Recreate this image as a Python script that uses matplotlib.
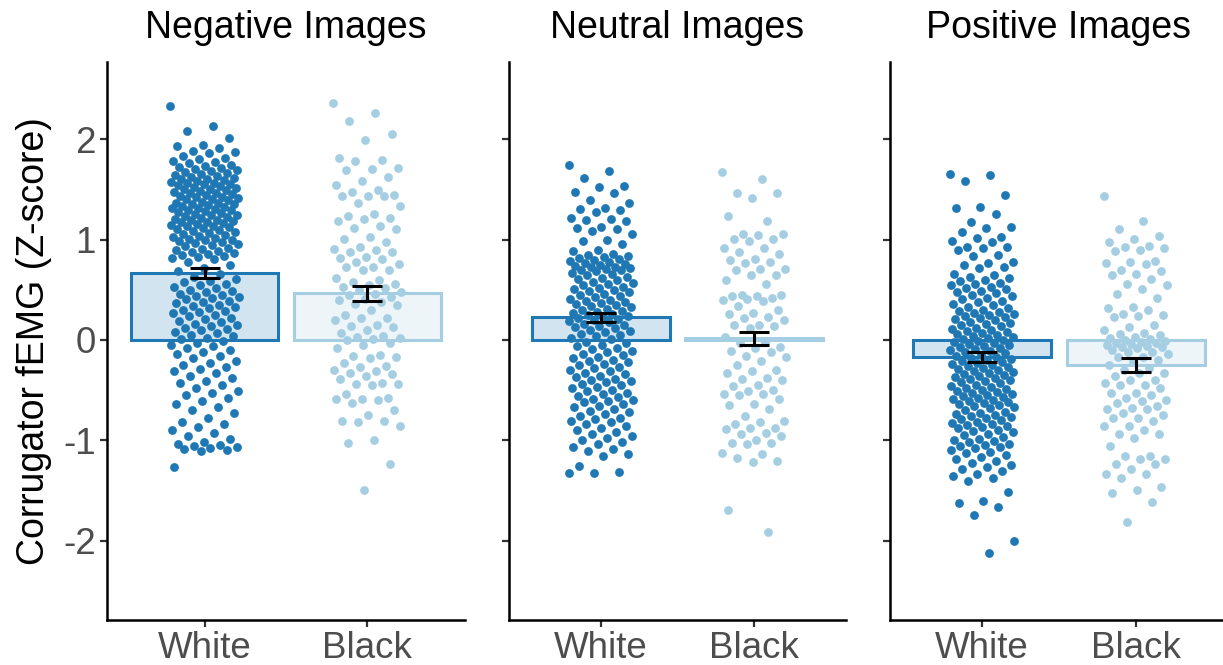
import numpy as np
import matplotlib.pyplot as plt

plt.rcParams['font.family'] = ['Liberation Sans', 'DejaVu Sans']

# Données
panels = ['Negative Images', 'Neutral Images', 'Positive Images']
groups = ['White', 'Black']
colors = ['#1F78B4', '#A6CEE3']

# moyennes et erreurs standard (White, Black)
means = [[0.67, 0.465], [0.225, 0.015], [-0.17, -0.245]]
ses = [[0.05, 0.075], [0.045, 0.065], [0.05, 0.07]]

neg_white = [2.33, 2.13, 2.08, 2.01, 1.94, 1.93, 1.91, 1.88, 1.87, 1.86, 1.83, 1.81, 1.80,
             1.78, 1.77, 1.76, 1.74, 1.73, 1.72, 1.71, 1.70, 1.69, 1.68, 1.67, 1.66, 1.65, 1.64,
             1.63, 1.62, 1.61, 1.60, 1.60, 1.59, 1.58, 1.57, 1.56, 1.56, 1.55, 1.55, 1.54, 1.53,
             1.52, 1.51, 1.50, 1.50, 1.49, 1.48, 1.47, 1.46, 1.46, 1.45, 1.44, 1.43, 1.42, 1.42,
             1.41, 1.40, 1.40, 1.39, 1.38, 1.37, 1.37, 1.36, 1.36, 1.35, 1.34, 1.33, 1.32, 1.32,
             1.31, 1.30, 1.30, 1.29, 1.28, 1.27, 1.26, 1.25, 1.25, 1.24, 1.23, 1.22, 1.21, 1.20,
             1.20, 1.19, 1.18, 1.18, 1.17, 1.16, 1.15, 1.14, 1.14, 1.13, 1.12, 1.11, 1.10, 1.09,
             1.08, 1.07, 1.06, 1.05, 1.04, 1.03, 1.02, 1.01, 1.00, 1.00, 0.99, 0.98, 0.97, 0.96,
             0.95, 0.94, 0.92, 0.91, 0.90, 0.89, 0.88, 0.87, 0.86, 0.85, 0.84, 0.83, 0.82, 0.81,
             0.78, 0.75, 0.72, 0.69, 0.66, 0.63, 0.61, 0.59, 0.58, 0.56, 0.55, 0.53, 0.52, 0.50,
             0.49, 0.48, 0.46, 0.45, 0.44, 0.43, 0.42, 0.41, 0.39, 0.38, 0.37, 0.35, 0.34, 0.33,
             0.32, 0.30, 0.29, 0.28, 0.27, 0.25, 0.24, 0.22, 0.21, 0.19, 0.18, 0.16, 0.15, 0.14,
             0.12, 0.11, 0.10, 0.08, 0.07, 0.05, 0.04, 0.02, 0.01, -0.01, -0.03, -0.05, -0.06,
             -0.08, -0.10, -0.12, -0.14, -0.16, -0.18, -0.21, -0.23, -0.25, -0.27, -0.29, -0.31,
             -0.33, -0.36, -0.38, -0.41, -0.43, -0.45, -0.48, -0.51, -0.53, -0.55, -0.58, -0.61,
             -0.64, -0.67, -0.70, -0.73, -0.78, -0.82, -0.84, -0.87, -0.90, -0.93, -0.96, -0.99,
             -1.02, -1.04, -1.05, -1.06, -1.07, -1.08, -1.09, -1.10, -1.11, -1.27]
neg_black = [2.36, 2.26, 2.18, 2.05, 1.99, 1.81, 1.79, 1.78, 1.71, 1.70, 1.69, 1.62, 1.58, 1.54,
             1.49, 1.47, 1.44, 1.43, 1.43, 1.43, 1.37, 1.34, 1.26, 1.24, 1.22, 1.21, 1.19, 1.14,
             1.12, 1.11, 1.03, 1.01, 0.98, 0.93, 0.91, 0.90, 0.88, 0.88, 0.83, 0.82, 0.81, 0.78,
             0.76, 0.73, 0.73, 0.70, 0.70, 0.62, 0.60, 0.58, 0.56, 0.55, 0.53, 0.52, 0.50, 0.48,
             0.46, 0.45, 0.43, 0.41, 0.40, 0.38, 0.36, 0.35, 0.30, 0.25, 0.22, 0.22, 0.20, 0.15,
             0.14, 0.13, 0.10, 0.07, 0.04, 0.03, 0.02, 0.01, 0.00, -0.03, -0.05, -0.08, -0.15,
             -0.16, -0.17, -0.18, -0.23, -0.26, -0.27, -0.30, -0.31, -0.33, -0.34, -0.36, -0.39,
             -0.43, -0.44, -0.44, -0.45, -0.54, -0.58, -0.59, -0.59, -0.60, -0.63, -0.70, -0.75,
             -0.81, -0.81, -0.82, -0.86, -1.00, -1.03, -1.24, -1.49]
neu_white = [1.74, 1.68, 1.61, 1.53, 1.52, 1.47, 1.46, 1.39, 1.37, 1.32, 1.31, 1.30, 1.28, 1.22,
             1.21, 1.20, 1.19, 1.13, 1.12, 1.11, 1.09, 1.06, 1.00, 0.99, 0.96, 0.90, 0.89, 0.86,
             0.85, 0.84, 0.83, 0.82, 0.81, 0.80, 0.79, 0.78, 0.77, 0.76, 0.75, 0.74, 0.73, 0.73,
             0.72, 0.71, 0.70, 0.70, 0.69, 0.67, 0.66, 0.65, 0.63, 0.62, 0.61, 0.60, 0.58, 0.57,
             0.56, 0.55, 0.53, 0.52, 0.51, 0.50, 0.49, 0.48, 0.46, 0.45, 0.44, 0.43, 0.41, 0.40,
             0.39, 0.38, 0.37, 0.36, 0.35, 0.34, 0.33, 0.31, 0.30, 0.29, 0.28, 0.27, 0.26, 0.25,
             0.24, 0.23, 0.22, 0.21, 0.20, 0.19, 0.18, 0.16, 0.15, 0.14, 0.13, 0.12, 0.10, 0.09,
             0.08, 0.06, 0.05, 0.04, 0.02, 0.01, -0.02, -0.03, -0.05, -0.06, -0.08, -0.09, -0.11,
             -0.12, -0.14, -0.15, -0.17, -0.18, -0.20, -0.21, -0.22, -0.24, -0.25, -0.27, -0.28,
             -0.30, -0.31, -0.33, -0.34, -0.36, -0.37, -0.39, -0.40, -0.41, -0.42, -0.44, -0.45,
             -0.47, -0.48, -0.50, -0.51, -0.53, -0.54, -0.56, -0.57, -0.59, -0.60, -0.61, -0.62,
             -0.64, -0.66, -0.67, -0.69, -0.71, -0.72, -0.74, -0.76, -0.78, -0.79, -0.81, -0.82,
             -0.84, -0.86, -0.88, -0.90, -0.92, -0.94, -0.96, -0.98, -1.00, -1.02, -1.04, -1.07,
             -1.09, -1.11, -1.14, -1.16, -1.26, -1.32, -1.33, -1.33]
neu_black = [1.67, 1.60, 1.46, 1.46, 1.41, 1.24, 1.19, 1.06, 1.06, 1.05, 1.01, 1.01, 0.99, 0.92,
             0.92, 0.88, 0.86, 0.81, 0.80, 0.78, 0.77, 0.71, 0.71, 0.70, 0.65, 0.65, 0.60, 0.56,
             0.45, 0.45, 0.44, 0.44, 0.42, 0.41, 0.40, 0.39, 0.34, 0.30, 0.27, 0.26, 0.23, 0.22,
             0.20, 0.15, 0.15, 0.14, 0.12, 0.03, -0.02, -0.03, -0.07, -0.08, -0.11, -0.12, -0.16,
             -0.17, -0.21, -0.25, -0.30, -0.31, -0.33, -0.38, -0.39, -0.40, -0.45, -0.46, -0.50,
             -0.51, -0.54, -0.54, -0.55, -0.59, -0.64, -0.65, -0.69, -0.76, -0.81, -0.82, -0.84,
             -0.88, -0.88, -0.89, -0.93, -0.94, -0.96, -1.00, -1.03, -1.03, -1.04, -1.13, -1.14,
             -1.18, -1.21, -1.22, -1.69, -1.91]
pos_white = [1.65, 1.64, 1.58, 1.44, 1.33, 1.32, 1.26, 1.18, 1.13, 1.12, 1.08, 1.03, 1.02, 0.99,
             0.98, 0.93, 0.93, 0.92, 0.90, 0.85, 0.84, 0.78, 0.77, 0.75, 0.73, 0.72, 0.66, 0.65,
             0.63, 0.62, 0.60, 0.59, 0.57, 0.56, 0.55, 0.53, 0.52, 0.51, 0.49, 0.48, 0.47, 0.45,
             0.44, 0.42, 0.41, 0.39, 0.38, 0.36, 0.35, 0.33, 0.32, 0.30, 0.29, 0.28, 0.27, 0.26,
             0.25, 0.24, 0.23, 0.22, 0.21, 0.20, 0.18, 0.17, 0.16, 0.15, 0.14, 0.12, 0.11, 0.10,
             0.09, 0.08, 0.07, 0.06, 0.05, 0.04, 0.03, 0.02, 0.01, 0.00, -0.01, -0.02, -0.03,
             -0.04, -0.05, -0.06, -0.07, -0.08, -0.09, -0.10, -0.11, -0.12, -0.13, -0.15, -0.16,
             -0.17, -0.18, -0.19, -0.20, -0.21, -0.22, -0.23, -0.24, -0.25, -0.26, -0.27, -0.28,
             -0.29, -0.30, -0.31, -0.32, -0.33, -0.34, -0.35, -0.36, -0.37, -0.38, -0.39, -0.40,
             -0.41, -0.42, -0.43, -0.45, -0.46, -0.47, -0.48, -0.49, -0.50, -0.51, -0.52, -0.53,
             -0.54, -0.55, -0.56, -0.57, -0.58, -0.59, -0.60, -0.61, -0.62, -0.63, -0.64, -0.65,
             -0.66, -0.67, -0.68, -0.70, -0.72, -0.73, -0.74, -0.75, -0.76, -0.77, -0.78, -0.79,
             -0.80, -0.82, -0.83, -0.84, -0.85, -0.86, -0.87, -0.88, -0.90, -0.91, -0.92, -0.94,
             -0.95, -0.97, -0.99, -1.00, -1.01, -1.02, -1.04, -1.05, -1.06, -1.07, -1.08, -1.10,
             -1.12, -1.13, -1.15, -1.17, -1.19, -1.21, -1.23, -1.25, -1.27, -1.29, -1.31, -1.34,
             -1.36, -1.38, -1.40, -1.51, -1.60, -1.62, -1.66, -1.74, -2.00, -2.12]
pos_black = [1.43, 1.19, 1.11, 1.04, 1.01, 0.98, 0.94, 0.93, 0.92, 0.90, 0.89, 0.79, 0.78, 0.77,
             0.76, 0.70, 0.69, 0.66, 0.65, 0.61, 0.56, 0.55, 0.51, 0.46, 0.42, 0.33, 0.32, 0.30,
             0.26, 0.25, 0.24, 0.23, 0.15, 0.13, 0.10, 0.07, 0.06, 0.05, 0.03, 0.02, 0.01, 0.00,
             -0.01, -0.02, -0.03, -0.03, -0.04, -0.05, -0.06, -0.07, -0.07, -0.08, -0.10, -0.12,
             -0.12, -0.14, -0.17, -0.17, -0.20, -0.22, -0.25, -0.28, -0.30, -0.33, -0.33, -0.36,
             -0.40, -0.40, -0.43, -0.45, -0.45, -0.48, -0.53, -0.53, -0.55, -0.58, -0.60, -0.61,
             -0.63, -0.66, -0.68, -0.69, -0.69, -0.73, -0.75, -0.78, -0.78, -0.81, -0.86, -0.86,
             -0.90, -0.94, -0.94, -0.98, -1.06, -1.16, -1.16, -1.19, -1.19, -1.24, -1.24, -1.29,
             -1.34, -1.34, -1.38, -1.46, -1.49, -1.52, -1.61, -1.81]

points = [[neg_white, neg_black], [neu_white, neu_black], [pos_white, pos_black]]

# positions des panneaux en pixels (gauche, largeur) sur une image 1223x665
W, H = 1223, 665
panel_px = [(107, 358), (509, 337), (890, 338)]
bottom_px, top_px = 620, 62

fig = plt.figure(figsize=(W / 100, H / 100), dpi=100)

for p in range(3):
    left, width = panel_px[p]
    ax = fig.add_axes([left / W, (H - bottom_px) / H, width / W, (bottom_px - top_px) / H])

    for g in range(2):
        y = np.array(points[p][g])
        # petit décalage horizontal régulier (nombre d'or) pour étaler les points
        jit = ((np.arange(len(y)) * 0.618034) % 1 - 0.5) * 0.42
        ax.scatter(g + jit, y, s=40, color=colors[g], linewidths=0, zorder=1)

        r, gg, b = plt.matplotlib.colors.to_rgb(colors[g])
        ax.bar(g, means[p][g], width=0.9, facecolor=(r, gg, b, 0.2),
               edgecolor=colors[g], linewidth=2.2, zorder=2)
        ax.errorbar(g, means[p][g], yerr=ses[p][g], color='black', capsize=11,
                    elinewidth=2.2, capthick=2.2, zorder=3)

    ax.set_xlim(-0.6, 1.6)
    ax.set_ylim(-2.79, 2.77)
    ax.set_xticks([0, 1])
    ax.set_xticklabels(groups)
    ax.set_yticks([-2, -1, 0, 1, 2])
    if p == 0:
        ax.set_yticklabels(['-2', '-1', '0', '1', '2'])
        ax.set_ylabel('Corrugator fEMG (Z-score)', fontsize=27, labelpad=8)
    else:
        ax.set_yticklabels([])

    ax.set_title(panels[p], fontsize=27, pad=17)
    for s in ['top', 'right']:
        ax.spines[s].set_visible(False)
    for s in ['left', 'bottom']:
        ax.spines[s].set_linewidth(1.8)
    ax.tick_params(axis='both', length=5, width=1.6, color='#333333',
                   labelsize=26.5, labelcolor='#4D4D4D', pad=3)

fig.savefig('out.png', dpi=100)
